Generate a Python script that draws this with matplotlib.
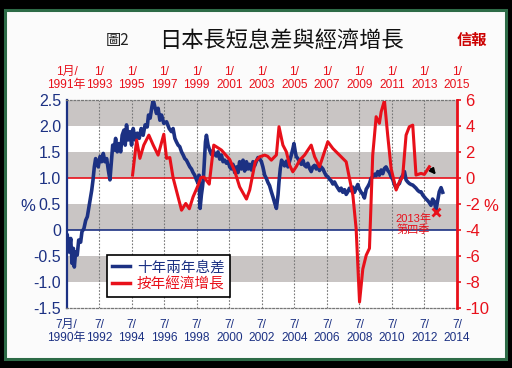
import matplotlib
matplotlib.use("Agg")
import matplotlib.pyplot as plt
from matplotlib.patches import Rectangle
from matplotlib.lines import Line2D

plt.rcParams["font.family"] = ["Liberation Sans", "Noto Sans CJK TC"]

NAVY = "#1c3183"
RED = "#e8101a"
BAND = "#c9c5c4"
TICKFONT = ["Liberation Sans", "Noto Sans CJK TC"]

# ---------------------------------------------------------------
# data (decimal years)
# ---------------------------------------------------------------
# 10y - 2y JGB spread, % (bottom / left axes)
spread_t = [1990.55, 1990.65, 1990.76, 1990.84, 1990.92, 1990.98, 1991.06, 1991.16, 1991.25, 1991.37,
            1991.45, 1991.57, 1991.68, 1991.78, 1991.88, 1991.96, 1992.05, 1992.13, 1992.21, 1992.29,
            1992.37, 1992.45, 1992.56, 1992.66, 1992.76, 1992.86, 1992.97, 1993.07, 1993.17, 1993.25,
            1993.34, 1993.42, 1993.52, 1993.62, 1993.72, 1993.83, 1993.92, 1994.03, 1994.11, 1994.19,
            1994.29, 1994.40, 1994.50, 1994.60, 1994.72, 1994.85, 1994.97, 1995.09, 1995.21, 1995.33,
            1995.46, 1995.54, 1995.64, 1995.75, 1995.83, 1995.93, 1996.03, 1996.13, 1996.24, 1996.34,
            1996.48, 1996.65, 1996.81, 1996.95, 1997.05, 1997.16, 1997.26, 1997.36, 1997.46, 1997.57,
            1997.67, 1997.77, 1997.87, 1997.97, 1998.08, 1998.18, 1998.28, 1998.38, 1998.49, 1998.59,
            1998.65, 1998.71, 1998.79, 1998.86, 1998.92, 1998.98, 1999.04, 1999.10, 1999.20, 1999.30,
            1999.41, 1999.51, 1999.61, 1999.71, 1999.81, 1999.92, 2000.02, 2000.12, 2000.22, 2000.33,
            2000.43, 2000.53, 2000.63, 2000.73, 2000.84, 2000.94, 2001.04, 2001.14, 2001.25, 2001.35,
            2001.45, 2001.56, 2001.66, 2001.76, 2001.86, 2001.96, 2002.06, 2002.17, 2002.27, 2002.37,
            2002.48, 2002.57, 2002.68, 2002.78, 2002.88, 2002.98, 2003.09, 2003.19, 2003.29, 2003.40,
            2003.50, 2003.56, 2003.64, 2003.72, 2003.80, 2003.90, 2004.01, 2004.11, 2004.21, 2004.32,
            2004.42, 2004.48, 2004.56, 2004.62, 2004.72, 2004.83, 2004.93, 2005.03, 2005.13, 2005.24,
            2005.33, 2005.44, 2005.54, 2005.64, 2005.74, 2005.85, 2005.95, 2006.05, 2006.15, 2006.26,
            2006.36, 2006.46, 2006.56, 2006.67, 2006.77, 2006.87, 2006.97, 2007.08, 2007.18, 2007.28,
            2007.38, 2007.48, 2007.59, 2007.69, 2007.79, 2007.89, 2007.99, 2008.10, 2008.20, 2008.30,
            2008.40, 2008.50, 2008.61, 2008.71, 2008.81, 2008.92, 2009.02, 2009.12, 2009.22, 2009.32,
            2009.43, 2009.53, 2009.63, 2009.73, 2009.84, 2009.94, 2010.04, 2010.14, 2010.25, 2010.35,
            2010.45, 2010.55, 2010.65, 2010.76, 2010.86, 2010.96, 2011.06, 2011.17, 2011.27, 2011.37,
            2011.47, 2011.57, 2011.68, 2011.78, 2011.88, 2011.98, 2012.08, 2012.19, 2012.29, 2012.39,
            2012.49, 2012.60, 2012.70, 2012.80, 2012.90, 2013.00, 2013.11, 2013.21, 2013.31, 2013.41,
            2013.52, 2013.62]
spread_v = [-0.10, -0.42, -0.16, -0.64, -0.35, -0.71, -0.42, -0.48, -0.19, -0.23,
            -0.03, 0.03, 0.19, 0.26, 0.45, 0.61, 0.77, 0.97, 1.22, 1.38,
            1.32, 1.22, 1.42, 1.32, 1.48, 1.32, 1.38, 1.16, 0.97, 1.29,
            1.64, 1.54, 1.77, 1.51, 1.67, 1.51, 1.83, 1.93, 1.64, 2.03,
            1.74, 1.90, 1.64, 1.96, 1.74, 1.87, 1.77, 1.96, 1.83, 2.03,
            1.99, 2.22, 2.16, 2.38, 2.51, 2.38, 2.25, 2.35, 2.12, 2.22,
            2.06, 2.09, 1.96, 1.90, 1.96, 1.77, 1.70, 1.64, 1.61, 1.51,
            1.45, 1.38, 1.35, 1.29, 1.22, 1.18, 1.11, 1.06, 0.97, 0.90,
            1.06, 0.42, 0.68, 0.84, 1.03, 1.38, 1.70, 1.83, 1.64, 1.54,
            1.46, 1.54, 1.46, 1.43, 1.51, 1.37, 1.45, 1.32, 1.35, 1.29,
            1.33, 1.22, 1.18, 1.27, 1.11, 1.22, 1.11, 1.32, 1.18, 1.35,
            1.14, 1.32, 1.18, 1.27, 1.16, 1.32, 1.24, 1.33, 1.40, 1.38,
            1.32, 1.22, 1.06, 1.00, 0.92, 0.86, 0.74, 0.64, 0.53, 0.42,
            0.68, 0.93, 1.19, 1.35, 1.29, 1.24, 1.33, 1.22, 1.33, 1.45,
            1.58, 1.67, 1.51, 1.42, 1.38, 1.32, 1.27, 1.35, 1.25, 1.22,
            1.29, 1.19, 1.13, 1.22, 1.25, 1.18, 1.25, 1.15, 1.22, 1.18,
            1.11, 1.05, 1.03, 0.98, 0.95, 0.89, 0.93, 0.86, 0.81, 0.76,
            0.81, 0.73, 0.78, 0.69, 0.74, 0.81, 0.76, 0.83, 0.73, 0.81,
            0.88, 0.79, 0.73, 0.69, 0.62, 0.79, 0.84, 0.90, 1.00, 1.03,
            1.08, 1.05, 1.13, 1.06, 1.16, 1.09, 1.19, 1.22, 1.15, 1.11,
            1.03, 0.98, 0.88, 0.81, 0.87, 0.90, 1.00, 1.06, 1.13, 0.97,
            0.93, 0.90, 0.88, 0.87, 0.84, 0.81, 0.77, 0.74, 0.74, 0.68,
            0.64, 0.60, 0.57, 0.53, 0.48, 0.60, 0.55, 0.39, 0.56, 0.74,
            0.82, 0.73]

# year-on-year GDP growth, % (top / right axes)
gdp_t = [1995.06, 1995.31, 1995.51, 1995.75, 1996.06, 1996.33, 1996.63, 1996.98, 1997.15, 1997.35,
         1997.55, 1998.07, 1998.33, 1998.55, 1998.78, 1999.09, 1999.25, 1999.44, 1999.62, 1999.77,
         2000.05, 2000.52, 2001.03, 2001.34, 2001.64, 2002.06, 2002.26, 2002.60, 2002.87, 2003.18,
         2003.36, 2003.59, 2003.79, 2003.90, 2004.06, 2004.30, 2004.51, 2004.71, 2004.91, 2005.12,
         2005.33, 2005.63, 2006.04, 2006.25, 2006.55, 2007.06, 2007.37, 2007.88, 2008.19, 2008.39,
         2008.60, 2008.80, 2009.01, 2009.21, 2009.42, 2009.62, 2009.82, 2009.93, 2010.03, 2010.23,
         2010.34, 2010.54, 2010.74, 2010.95, 2011.26, 2011.46, 2011.66, 2011.87, 2012.07, 2012.28,
         2012.48, 2012.79, 2012.99, 2013.30]
gdp_v = [0.25, 2.95, 1.54, 2.56, 3.33, 2.56, 1.79, 3.40, 1.54, 1.60,
         0.05, -2.46, -1.94, -2.35, -1.43, -0.53, 0.05, 0.10, -0.20, -0.45,
         2.56, 2.18, 1.45, 0.55, -0.66, -1.60, -0.90, 1.27, 1.66, 1.79,
         1.70, 1.40, 1.66, 1.80, 3.98, 2.56, 2.05, 1.02, 0.50, 0.90,
         1.40, 1.79, 2.56, 1.66, 0.89, 2.82, 2.30, 1.66, 1.27, 0.00,
         -1.30, -3.87, -9.54, -7.00, -5.93, -5.40, 1.79, 3.33, 4.75, 4.24,
         5.13, 6.00, 3.33, 0.76, -0.90, -0.27, 0.12, 3.33, 3.98, 4.10,
         0.25, 0.38, 0.30, 0.89]

# projected move and 2013 Q4 mark
arrow_t = [2013.30, 2013.81]
arrow_v = [0.89, 0.12]
q4_t, q4_v = 2013.71, -2.59

bottom_ticks = [1990.5 + 2 * i for i in range(13)]
bottom_labels = ["7月/\n1990年"] + ["7/\n%d" % y for y in range(1992, 2015, 2)]
top_ticks = [1991 + 2 * i for i in range(13)]
top_labels = ["1月/\n1991年"] + ["1/\n%d" % y for y in range(1993, 2016, 2)]
left_ticks = [-1.5, -1.0, -0.5, 0, 0.5, 1.0, 1.5, 2.0, 2.5]
left_labels = ["-1.5", "-1.0", "-0.5", "0", "0.5", "1.0", "1.5", "2.0", "2.5"]
right_ticks = [-10, -8, -6, -4, -2, 0, 2, 4, 6]

# ---------------------------------------------------------------
# figure
# ---------------------------------------------------------------
fig = plt.figure(figsize=(5.12, 3.68), dpi=100, facecolor="black")
fig.patches.append(Rectangle((5 / 512, 9 / 368), 501 / 512, 349 / 368, transform=fig.transFigure,
                             facecolor="#fbfbfb", edgecolor="#2d6b47", linewidth=2.2, zorder=-10))

rect = [66.5 / 512, 1 - 308 / 368, 390.5 / 512, 207.5 / 368]
ax = fig.add_axes(rect, facecolor="white")
ax.set_xlim(1990.5, 2014.5)
ax.set_ylim(-1.5, 2.5)
for lo in [2.0, 1.0, 0.0, -1.0]:
    ax.axhspan(lo, lo + 0.5, color=BAND, lw=0, zorder=0)
for t in bottom_ticks[1:-1]:
    ax.axvline(t, color="#777777", lw=0.8, ls=(0, (1.5, 1.5)), zorder=1)
ax.axhline(1.0, color=RED, lw=1.2, zorder=2)
ax.axhline(0.0, color=NAVY, lw=1.2, zorder=2)
ax.plot(spread_t, spread_v, color=NAVY, lw=2.6, zorder=3, solid_joinstyle="round")

ax.set_xticks(bottom_ticks)
ax.set_xticklabels(bottom_labels, color=NAVY, fontsize=8.6, linespacing=1.1, family=TICKFONT)
ax.set_yticks(left_ticks)
ax.set_yticklabels(left_labels, color=NAVY, fontsize=11.5)
ax.tick_params(axis="x", length=0, pad=8)
ax.tick_params(axis="y", length=0, pad=4)
ax.spines["left"].set_color(NAVY)
ax.spines["left"].set_linewidth(1.6)
ax.spines["right"].set_visible(False)
for s in ["top", "bottom"]:
    ax.spines[s].set_color("#777777")
    ax.spines[s].set_linestyle((0, (1.5, 1.5)))
    ax.spines[s].set_linewidth(0.9)

ax2 = fig.add_axes(rect, facecolor="none")
ax2.set_xlim(1991, 2015)
ax2.set_ylim(-10, 6)
ax2.plot(gdp_t, gdp_v, color=RED, lw=2.2, zorder=3, solid_joinstyle="round")
ax2.annotate("", xy=(arrow_t[1], arrow_v[1]), xytext=(arrow_t[0], arrow_v[0]),
             arrowprops=dict(arrowstyle="-|>", color="black", lw=1.5, mutation_scale=8))
ax2.plot([q4_t], [q4_v], marker="x", color=RED, ms=6, mew=2)
ax2.text(2012.3, -3.55, "2013年\n第四季", color=RED, fontsize=8, ha="center", va="center",
         linespacing=1.05, family=TICKFONT)

ax2.xaxis.tick_top()
ax2.set_xticks(top_ticks)
ax2.set_xticklabels(top_labels, color=RED, fontsize=8.6, linespacing=1.1, family=TICKFONT)
ax2.yaxis.tick_right()
ax2.set_yticks(right_ticks)
ax2.set_yticklabels([str(v) for v in right_ticks], color=RED, fontsize=12)
ax2.tick_params(axis="x", length=0, pad=7)
ax2.tick_params(axis="y", length=3, width=1.2, color=RED, pad=3)
for s in ["left", "top", "bottom"]:
    ax2.spines[s].set_visible(False)
ax2.spines["right"].set_color(RED)
ax2.spines["right"].set_linewidth(2)

handles = [Line2D([], [], color=NAVY, lw=2.5), Line2D([], [], color=RED, lw=2.5)]
leg = ax2.legend(handles, ["十年兩年息差", "按年經濟增長"], loc="lower left",
                 bbox_to_anchor=(0.085, 0.02), handlelength=1.2, handletextpad=0.5,
                 borderpad=0.35, labelspacing=0.2, fancybox=False, framealpha=1,
                 edgecolor="black", prop={"family": ["Noto Sans CJK TC"], "size": 10.5})
leg.get_frame().set_linewidth(1.2)
for txt, c in zip(leg.get_texts(), [NAVY, RED]):
    txt.set_color(c)

fig.text(28 / 512, 1 - 206 / 368, "%", color=NAVY, fontsize=12, ha="center", va="center")
fig.text(491 / 512, 1 - 206 / 368, "%", color=RED, fontsize=12, ha="center", va="center")

fig.text(118 / 512, 1 - 41 / 368, "圖2", fontsize=11, ha="center", va="center",
         family=["Noto Sans CJK TC"], color="#222222")
fig.text(281 / 512, 1 - 40 / 368, "日本長短息差與經濟增長", fontsize=16, ha="center", va="center",
         family=["Noto Sans CJK TC"], color="#111111")
fig.text(472 / 512, 1 - 40 / 368, "信報", fontsize=11, ha="center", va="center",
         family=["Noto Sans CJK TC"], weight="bold", color="#cc0000")

fig.savefig("out.png", dpi=100, facecolor=fig.get_facecolor())
